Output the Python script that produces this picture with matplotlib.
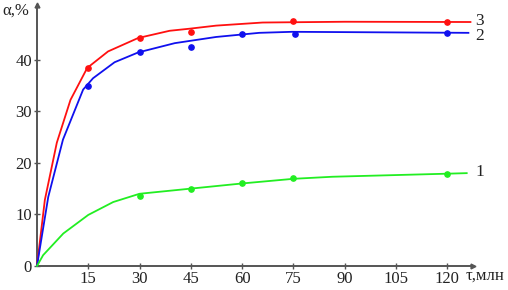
import matplotlib
matplotlib.use("Agg")
import matplotlib.pyplot as plt

plt.rcParams["font.family"] = ["Liberation Serif", "DejaVu Serif"]

# curve 3 (red)
t3_line = [0, 2.3, 5.8, 9.8, 14.7, 20.8, 29.6, 38.8, 44.6, 52.4, 66, 90, 126.8]
a3_line = [0, 12.8, 23.9, 32.2, 38.4, 41.6, 44.2, 45.6, 46.0, 46.6, 47.2, 47.35, 47.3]
t3_pts = [15, 30, 45, 75, 120]
a3_pts = [38.3, 44.2, 45.4, 47.4, 47.3]

# curve 2 (blue)
t2_line = [0, 3.3, 7.6, 13.5, 16.4, 22.7, 29.6, 40.3, 52.4, 65, 74.6, 126.2]
a2_line = [0, 13.4, 24.5, 34.2, 36.4, 39.5, 41.4, 43.2, 44.4, 45.2, 45.4, 45.2]
t2_pts = [15, 30, 45, 60, 75.5, 120]
a2_pts = [34.9, 41.4, 42.4, 45.0, 45.0, 45.1]

# curve 1 (green)
t1_line = [0, 1.8, 7.7, 15, 22.3, 30, 45, 60, 75, 86.4, 120.4, 125.7]
a1_line = [0, 2.1, 6.3, 9.9, 12.4, 14.0, 15.0, 16.0, 16.9, 17.3, 17.9, 18.0]
t1_pts = [30, 45, 60, 75, 120]
a1_pts = [13.5, 15.0, 16.0, 17.0, 17.8]

x_ticks = [15, 30, 45, 60, 75, 90, 105, 120]
y_ticks = [0, 10, 20, 30, 40]

series = [
    (t3_line, a3_line, t3_pts, a3_pts, "#ff1010", "3", 47.4),
    (t2_line, a2_line, t2_pts, a2_pts, "#1010ee", "2", 44.5),
    (t1_line, a1_line, t1_pts, a1_pts, "#22ee22", "1", 18.3),
]

fig = plt.figure(figsize=(5.08, 2.90), dpi=100)
ax = fig.add_axes([0.0728, 0.0828, 0.858, 0.9])

for tl, al, tp, ap, col, lab, ylab in series:
    ax.plot(tl, al, color=col, lw=1.3, clip_on=False, zorder=3)
    ax.plot(tp, ap, "o", color=col, ms=3.8, clip_on=False, zorder=4)
    ax.text(128.3, ylab, lab, fontsize=12.5, color="#222222", va="center",
            ha="left", clip_on=False)

ax.set_xlim(0, 127.5)
ax.set_ylim(0, 50.6)

spine_col = "#555555"
for s in ["top", "right"]:
    ax.spines[s].set_visible(False)
for s in ["left", "bottom"]:
    ax.spines[s].set_color(spine_col)
    ax.spines[s].set_linewidth(1.4)

ax.set_xticks(x_ticks)
ax.set_yticks(y_ticks)
ax.tick_params(direction="inout", length=5, width=1, colors=spine_col,
               labelcolor="#222222", labelsize=12, pad=1)

# axis arrows
ax.plot(1, 0, ">", color=spine_col, ms=3.5, transform=ax.get_yaxis_transform(),
        clip_on=False)
ax.plot(0, 1, "^", color=spine_col, ms=3.5, transform=ax.get_xaxis_transform(),
        clip_on=False)

fig.text(0.004, 0.965, "α,%", fontsize=12, color="#222222", va="center", ha="left")
fig.text(0.994, 0.048, "τ,млн", fontsize=12, color="#222222", va="center", ha="right")

fig.savefig("out.png", dpi=100)
